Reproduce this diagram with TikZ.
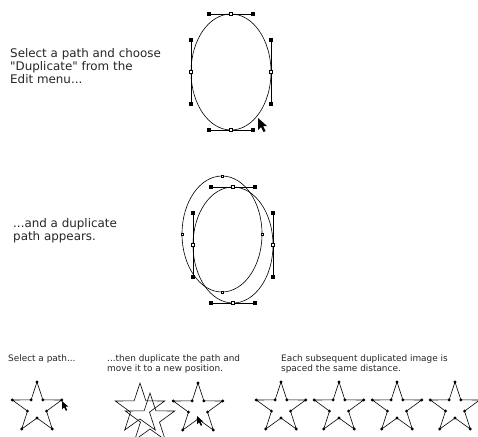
\documentclass[tikz,border=0pt]{standalone}
\usepackage{fontspec}
\newfontfamily\uifont{DejaVu Sans}
\tikzset{
  outline/.style={draw=black,line width=0.6pt},
  handle/.style={draw=black,line width=0.5pt},
  handlept/.style={rectangle,fill=black,inner sep=0pt,minimum size=3.4pt},
  anchorpt/.style={rectangle,draw=black,fill=white,line width=0.4pt,inner sep=0pt,minimum size=3pt},
  starpt/.style={circle,fill=black,inner sep=0pt,minimum size=3.2pt},
  caption/.style={anchor=north west,inner sep=0pt,align=left,text=black!85,font=\uifont\fontsize{11.9}{13}\selectfont},
  smallcap/.style={caption,font=\uifont\fontsize{8.9}{9.5}\selectfont},
  pointer/.pic={\fill[black] (0,0) -- (0,12) -- (3,9) -- (5.5,14) -- (7.5,13) -- (5,8) -- (9,8) -- cycle;},
  star/.pic={\draw[outline] (-90:26) \foreach \i in {1,...,9}{ -- ({-90+36*\i}:{mod(\i,2)==0 ? 26 : 10}) } -- cycle;},
  selstar/.pic={\pic{star};
    \foreach \i in {0,...,9} \node[starpt] at ({-90+36*\i}:{mod(\i,2)==0 ? 26 : 10}) {};},
  plainell/.pic={\draw[outline] (0,0) ellipse [x radius=40pt,y radius=58pt];
    \foreach \ax/\ay in {0/-58,0/58,-40/0,40/0} \node[anchorpt,minimum size=2.4pt] at (\ax,\ay) {};},
  selell/.pic={\draw[outline] (0,0) ellipse [x radius=40pt,y radius=58pt];
    \foreach \ax/\ay/\hx/\hy in {0/-58/22/0, 0/58/22/0, -40/0/0/32, 40/0/0/32}{
      \draw[handle] ({\ax-\hx},{\ay-\hy}) -- ({\ax+\hx},{\ay+\hy});
      \node[handlept] at ({\ax-\hx},{\ay-\hy}) {};
      \node[handlept] at ({\ax+\hx},{\ay+\hy}) {};
      \node[anchorpt] at (\ax,\ay) {};
    }},
}
\begin{document}
\begin{tikzpicture}[x=1pt,y=-1pt]
  \useasboundingbox (0,0) rectangle (478,436);
  % duplicating the oval
  \node[caption] (dupnote) at (10,48) {Select a path and choose\\"Duplicate" from the\\Edit menu...};
  \pic (origell) at (231,72) {selell};
  \pic (ptrA) at (258,118) {pointer};
  \node[caption] (appearnote) at (13,218) {...and a duplicate\\path appears.};
  \pic (oldell) at (222,234) {plainell};
  \pic (newell) at (233,245) {selell};
  % stars along the bottom
  \node[smallcap] (selnote) at (8,355) {Select a path...};
  \node[smallcap] (movenote) at (107,355) {...then duplicate the path and\\move it to a new position.};
  \node[smallcap] (spacenote) at (281,355) {Each subsequent duplicated image is\\spaced the same distance.};
  \pic (starA) at (37,408) {selstar};
  \pic[scale=0.7] (ptrB) at (62,401) {pointer};
  \pic (starB) at (140,409) {star};
  \pic (starC) at (150,419) {star};
  \pic (starD) at (198,409) {selstar};
  \pic[scale=0.7] (ptrC) at (197,416) {pointer};
  \foreach \x/\n in {281/1,339/2,397/3,455/4}
    \pic (row\n) at (\x,408) {selstar};
\end{tikzpicture}
\end{document}
